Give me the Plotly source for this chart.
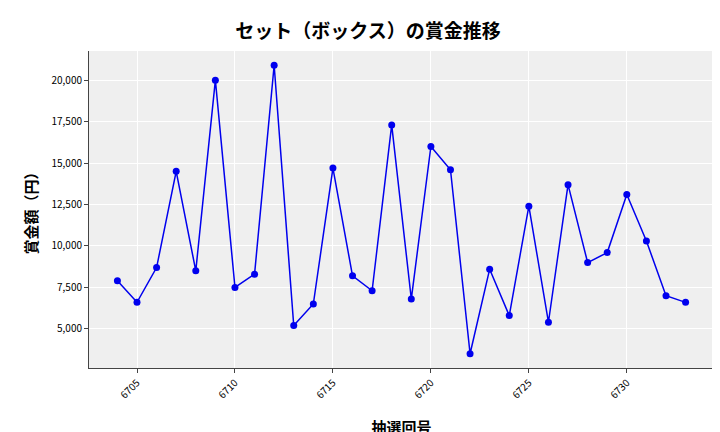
import plotly.graph_objects as go

draws = list(range(6704, 6734))
prizes = [7900, 6600, 8700, 14500, 8500, 20000, 7500, 8300, 20900, 5200,
          6500, 14700, 8200, 7300, 17300, 6800, 16000, 14600, 3500, 8600,
          5800, 12400, 5400, 13700, 9000, 9600, 13100, 10300, 7000, 6600]

font = "Noto Sans CJK JP"

fig = go.Figure()
fig.add_scatter(x=draws, y=prizes, mode="lines+markers",
                line=dict(color="#0000ee", width=1.5),
                marker=dict(color="#0000ee", size=7))

fig.update_layout(
    width=720, height=432,
    margin=dict(l=81, r=14, t=43, b=72),
    paper_bgcolor="white", plot_bgcolor="#efefef",
    font=dict(family=font, size=10, color="black"),
    title=dict(text="<b>セット（ボックス）の賞金推移</b>", x=0.5, y=0.945,
               xanchor="center", yanchor="middle", font=dict(size=19, family=font)),
    showlegend=False,
)
fig.update_xaxes(title=dict(text="<b>抽選回号</b>", font=dict(size=15), standoff=22),
                 tickvals=[6705, 6710, 6715, 6720, 6725, 6730], tickangle=-45,
                 range=[6702.55, 6734.45], gridcolor="white", zeroline=False, automargin=False,
                 ticks="outside", ticklen=4, showline=True, linecolor="#444", mirror=False)
fig.update_yaxes(title=dict(text="<b>賞金額（円）</b>", font=dict(size=15), standoff=10),
                 tickformat=",", tickvals=list(range(5000, 20001, 2500)), automargin=False,
                 range=[2640, 21760], gridcolor="white", zeroline=False,
                 ticks="outside", ticklen=4, showline=True, linecolor="#444")

fig.write_html("out.html")
